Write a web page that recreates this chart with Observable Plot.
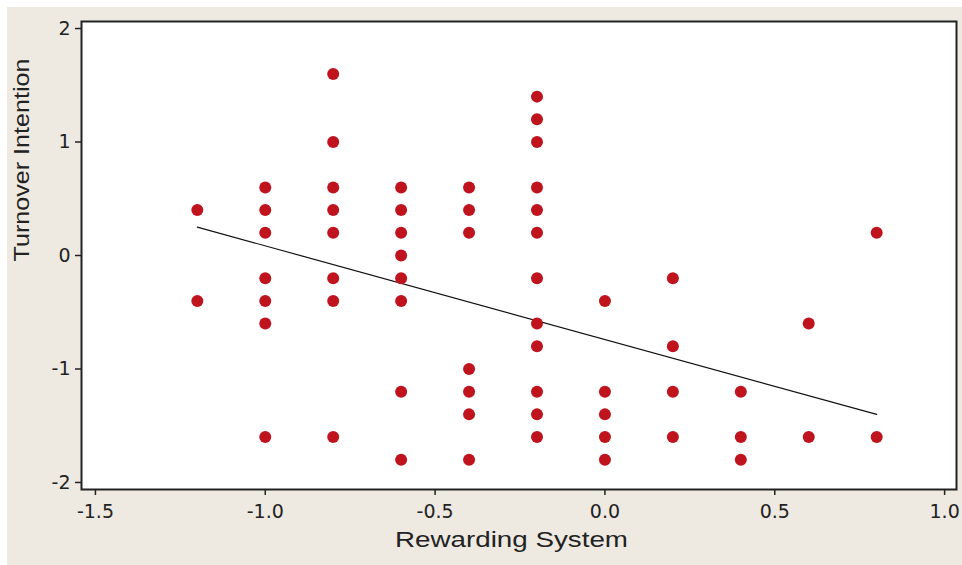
<!DOCTYPE html>
<html><head><meta charset="utf-8">
<script src="https://cdn.jsdelivr.net/npm/d3@7"></script>
<script src="https://cdn.jsdelivr.net/npm/@observablehq/plot@0.6"></script>
<style>
html,body{margin:0;padding:0;background:#fff;}
#chart{position:absolute;left:7px;top:7px;width:955px;height:558px;background:#EEEAE1;overflow:hidden;}
#chart svg{display:block;}
</style></head><body><div id="chart"></div>
<script>
// Observations: Rewarding System (x) vs Turnover Intention (y)
const rewarding = [
  -1.2,-1.2,
  -1.0,-1.0,-1.0,-1.0,-1.0,-1.0,-1.0,
  -0.8,-0.8,-0.8,-0.8,-0.8,-0.8,-0.8,-0.8,
  -0.6,-0.6,-0.6,-0.6,-0.6,-0.6,-0.6,-0.6,
  -0.4,-0.4,-0.4,-0.4,-0.4,-0.4,-0.4,
  -0.2,-0.2,-0.2,-0.2,-0.2,-0.2,-0.2,-0.2,-0.2,-0.2,-0.2,-0.2,
  0.0,0.0,0.0,0.0,0.0,
  0.2,0.2,0.2,0.2,
  0.4,0.4,0.4,
  0.6,0.6,
  0.8,0.8
];
const turnover = [
  0.4,-0.4,
  0.6,0.4,0.2,-0.2,-0.4,-0.6,-1.6,
  1.6,1.0,0.6,0.4,0.2,-0.2,-0.4,-1.6,
  0.6,0.4,0.2,0.0,-0.2,-0.4,-1.2,-1.8,
  0.6,0.4,0.2,-1.0,-1.2,-1.4,-1.8,
  1.4,1.2,1.0,0.6,0.4,0.2,-0.2,-0.6,-0.8,-1.2,-1.4,-1.6,
  -0.4,-1.2,-1.4,-1.6,-1.8,
  -0.2,-0.8,-1.2,-1.6,
  -1.2,-1.6,-1.8,
  -0.6,-1.6,
  0.2,-1.6
];
// Fitted regression line end points
const fitX = [-1.2, 0.8];
const fitY = [0.25, -1.40];

const xTicks = [-1.5, -1.0, -0.5, 0.0, 0.5, 1.0];
const xTickLabels = ["-1.5", "-1.0", "-0.5", "0.0", "0.5", "1.0"];
const yTicks = [2, 1, 0, -1, -2];
const yTickLabels = ["2", "1", "0", "-1", "-2"];
const xTitle = "Rewarding System";
const yTitle = "Turnover Intention";

const points = rewarding.map((x, i) => ({x, y: turnover[i]}));
const fit = fitX.map((x, i) => ({x, y: fitY[i]}));

const plot = Plot.plot({
  width: 955,
  height: 558,
  marginLeft: 74,
  marginTop: 14,
  marginRight: 6,
  marginBottom: 76,
  style: {fontFamily: "DejaVu Sans", fontSize: "20px", color: "#222", background: "transparent", overflow: "visible"},
  x: {domain: [-1.541, 1.035]},
  y: {domain: [-2.062, 2.062]},
  marks: [
    Plot.frame({fill: "white", stroke: null}),
    Plot.axisX({ticks: xTicks, tickFormat: (d) => xTickLabels[xTicks.indexOf(d)], tickSize: 6, tickPadding: 9, label: null, stroke: "#222", strokeWidth: 1.5, fill: "#222"}),
    Plot.axisY({ticks: yTicks, tickFormat: (d) => yTickLabels[yTicks.indexOf(d)], tickSize: 6, tickPadding: 5, label: null, stroke: "#222", strokeWidth: 1.5, fill: "#222"}),
    Plot.line(fit, {x: "x", y: "y", stroke: "#111", strokeWidth: 1.2}),
    Plot.dot(points, {x: "x", y: "y", r: 6, fill: "#BF141E", stroke: null}),
    Plot.frame({stroke: "#222", strokeWidth: 2}),
    Plot.text([xTitle], {frameAnchor: "bottom", text: d => d, dx: -7.5, dy: 57, fontSize: 22, fontFamily: "Liberation Sans", fill: "#222"}),
    Plot.text([yTitle], {frameAnchor: "left", text: d => d, rotate: -90, dx: -60, dy: 6, fontSize: 22, fontFamily: "Liberation Sans", fill: "#222"})
  ]
});
document.getElementById("chart").appendChild(plot);
// tick label size
d3.select(plot).selectAll('g[aria-label="x-axis tick label"], g[aria-label="y-axis tick label"]')
  .style("font-size", "19px").attr("font-size", 19);
// stretch the axis titles to match the reference's wide lettering
d3.select(plot).selectAll("text").each(function() {
  const t = this.textContent;
  if (t === xTitle) { this.setAttribute("textLength", 233); this.setAttribute("lengthAdjust", "spacingAndGlyphs"); }
  if (t === yTitle) { this.setAttribute("textLength", 203); this.setAttribute("lengthAdjust", "spacingAndGlyphs"); }
});
</script>
</body></html>
